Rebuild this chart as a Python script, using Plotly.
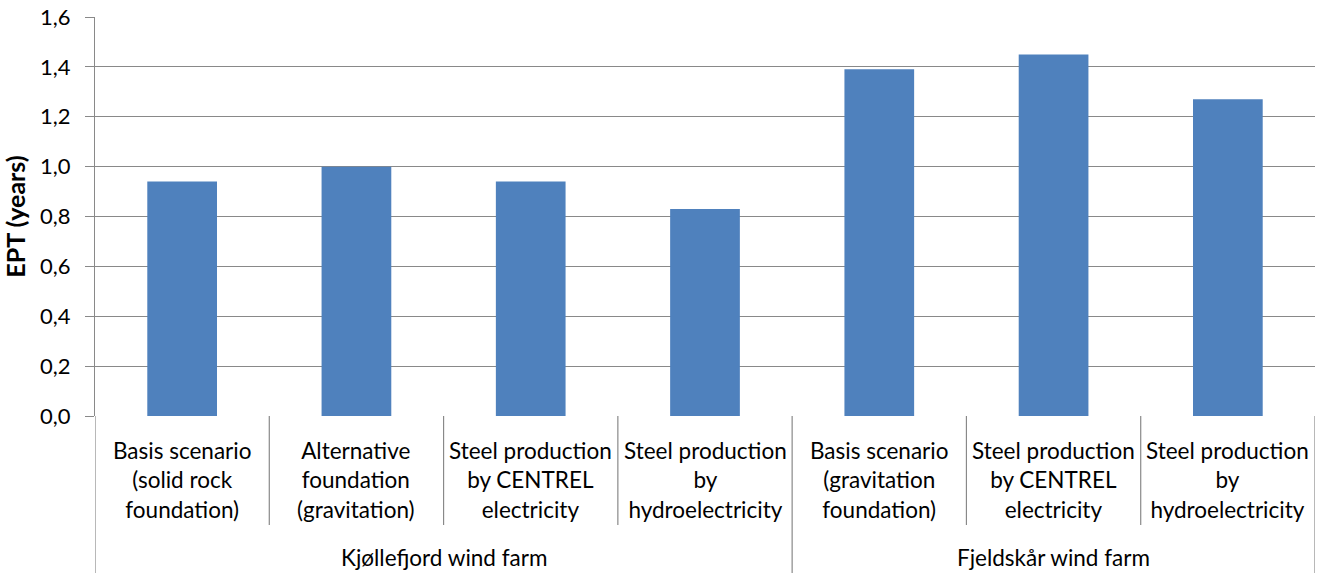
import plotly.graph_objects as go

# Scenario labels (line breaks as shown under each bar)
categories = [
    "Basis scenario<br>(solid rock<br>foundation)",
    "Alternative<br>foundation<br>(gravitation)",
    "Steel production<br>by CENTREL<br>electricity",
    "Steel production<br>by<br>hydroelectricity",
    "Basis scenario<br>(gravitation<br>foundation)",
    "Steel production<br>by CENTREL<br>electricity",
    "Steel production<br>by<br>hydroelectricity",
]
ept_years = [0.94, 1.00, 0.94, 0.83, 1.39, 1.45, 1.27]

wind_farms = ["Kjøllefjord wind farm", "Fjeldskår wind farm"]
farm_sizes = [4, 3]

y_ticks = [0.0, 0.2, 0.4, 0.6, 0.8, 1.0, 1.2, 1.4, 1.6]

# Layout geometry (pixels)
W, H = 1326, 573
M_L, M_R, M_T, M_B = 95, 11, 17, 157
plot_h = H - M_T - M_B


def py(pixel_y):
    """Convert a page pixel row to paper y coordinate."""
    return (H - M_B - pixel_y) / plot_h


FONT = "Lato"
GRID = "#898989"
BAR = "#4F81BD"

x_pos = list(range(len(ept_years)))

fig = go.Figure(
    go.Bar(
        x=x_pos,
        y=ept_years,
        marker=dict(color=BAR, line=dict(width=0)),
        hoverinfo="y",
    )
)

annotations = []
shapes = []

# Scenario labels below each bar
for i, label in enumerate(categories):
    annotations.append(dict(
        x=i, y=py(480), xref="x", yref="paper",
        text=label, showarrow=False,
        xanchor="center", yanchor="middle",
        font=dict(family=FONT, size=22.5, color="#000000"),
    ))

# Thin separators between scenario labels, tall separators between farms
start = 0
boundaries = []
for size in farm_sizes:
    boundaries.append(start - 0.5)
    start += size
boundaries.append(start - 0.5)

for i in range(len(ept_years) - 1):
    xb = i + 0.5
    if xb in boundaries:
        continue
    shapes.append(dict(type="line", xref="x", yref="paper",
                       x0=xb, x1=xb, y0=0, y1=py(525),
                       line=dict(color=GRID, width=1.2)))

for xb in boundaries:
    shapes.append(dict(type="line", xref="x", yref="paper",
                       x0=xb, x1=xb, y0=0, y1=py(H + 5),
                       line=dict(color=GRID, width=1.2)))

# Wind farm group labels
start = 0
for name, size in zip(wind_farms, farm_sizes):
    center = start + (size - 1) / 2
    annotations.append(dict(
        x=center, y=py(557), xref="x", yref="paper",
        text=name, showarrow=False,
        xanchor="center", yanchor="middle",
        font=dict(family=FONT, size=22.5, color="#000000"),
    ))
    start += size

fig.update_layout(
    width=W, height=H,
    margin=dict(l=M_L, r=M_R, t=M_T, b=M_B, pad=0, autoexpand=False),
    paper_bgcolor="#FFFFFF",
    plot_bgcolor="#FFFFFF",
    separators=", ",
    bargap=0.6,
    showlegend=False,
    font=dict(family=FONT, color="#000000"),
    annotations=annotations,
    shapes=shapes,
    xaxis=dict(
        range=[-0.5, len(ept_years) - 0.5],
        showticklabels=False,
        showgrid=False,
        zeroline=False,
        showline=False,
        ticks="",
        automargin=False,
        fixedrange=True,
    ),
    yaxis=dict(
        range=[0, 1.6],
        tickvals=y_ticks,
        tickformat=".1f",
        showgrid=True,
        gridcolor=GRID,
        gridwidth=1.2,
        zeroline=False,
        showline=True,
        linecolor=GRID,
        linewidth=1.2,
        ticks="outside",
        ticklen=9,
        tickcolor=GRID,
        tickwidth=1.2,
        ticklabelstandoff=10,
        tickfont=dict(family=FONT, size=22, color="#000000"),
        title=dict(
            text="<b>EPT (years)</b>",
            font=dict(family=FONT, size=25, color="#000000"),
            standoff=8,
        ),
        automargin=False,
        fixedrange=True,
    ),
)

fig.write_html("out.html")
